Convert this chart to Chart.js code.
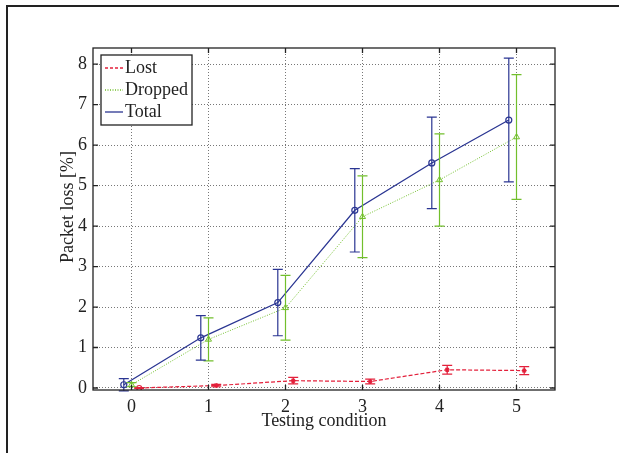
<!DOCTYPE html>
<html>
<head>
<meta charset="utf-8">
<script src="https://cdn.jsdelivr.net/npm/chart.js@4.4.1/dist/chart.umd.min.js"></script>
<style>
    html, body { margin: 0; padding: 0; background: #fff; }
    #wrap { position: relative; width: 619px; height: 458px; }
    #frame {
        position: absolute; left: 6px; top: 5px; right: 0; bottom: 5px;
        border-top: 2px solid #222; border-left: 2px solid #222;
        pointer-events: none;
    }
</style>
</head>
<body>
<div id="wrap">
    <canvas id="c" width="619" height="458"></canvas>
    <div id="frame"></div>
</div>
<script>
// Testing conditions and per-series values
const conditions = [0, 1, 2, 3, 4, 5];
const xTicks = ['0', '1', '2', '3', '4', '5'];
const yTicks = [0, 1, 2, 3, 4, 5, 6, 7, 8];

const lost = [0.00, 0.06, 0.18, 0.16, 0.45, 0.43];
const lostErr = [0.01, 0.03, 0.08, 0.06, 0.11, 0.10];

const dropped = [0.08, 1.20, 1.98, 4.23, 5.14, 6.20];
const droppedErr = [0.05, 0.53, 0.80, 1.01, 1.14, 1.54];

const total = [0.08, 1.24, 2.11, 4.39, 5.56, 6.62];
const totalErr = [0.15, 0.55, 0.82, 1.03, 1.13, 1.53];

// each series is plotted slightly shifted along x
const seriesShift = { lost: 0.1, dropped: 0, total: -0.1 };

const COLORS = { lost: '#e3203b', dropped: '#72bf2c', total: '#2a3592' };
const FONT = '"Liberation Serif", "DejaVu Serif", serif';

function points(values, shift) {
    return conditions.map((c, i) => ({ x: c + shift, y: values[i] }));
}

// vertical error bars with caps
const errorBars = {
    id: 'errorBars',
    afterDatasetsDraw(chart) {
        const { ctx, scales: { x, y } } = chart;
        chart.data.datasets.forEach(ds => {
            if (!ds.err) return;
            ctx.save();
            ctx.strokeStyle = ds.borderColor;
            ctx.lineWidth = 1.2;
            ctx.setLineDash([]);
            ds.data.forEach((p, i) => {
                const px = x.getPixelForValue(p.x);
                const top = y.getPixelForValue(p.y + ds.err[i]);
                const bot = y.getPixelForValue(p.y - ds.err[i]);
                ctx.beginPath();
                ctx.moveTo(px, top); ctx.lineTo(px, bot);
                ctx.moveTo(px - 5, top); ctx.lineTo(px + 5, top);
                ctx.moveTo(px - 5, bot); ctx.lineTo(px + 5, bot);
                ctx.stroke();
            });
            ctx.restore();
        });
    }
};

// axes box with inward ticks, axis titles and the legend in the top-left corner
const boxAndLegend = {
    id: 'boxAndLegend',
    afterDraw(chart) {
        const { ctx, chartArea: a, scales: { x, y } } = chart;
        ctx.save();
        ctx.strokeStyle = '#222';
        ctx.lineWidth = 1.3;
        ctx.setLineDash([]);
        ctx.strokeRect(a.left, a.top, a.right - a.left, a.bottom - a.top);
        ctx.beginPath();
        conditions.forEach(c => {
            const px = x.getPixelForValue(c);
            ctx.moveTo(px, a.bottom); ctx.lineTo(px, a.bottom - 5);
            ctx.moveTo(px, a.top); ctx.lineTo(px, a.top + 5);
        });
        yTicks.forEach(v => {
            const py = y.getPixelForValue(v);
            ctx.moveTo(a.left, py); ctx.lineTo(a.left + 5, py);
            ctx.moveTo(a.right, py); ctx.lineTo(a.right - 5, py);
        });
        ctx.stroke();

        // axis titles
        ctx.fillStyle = '#222';
        ctx.font = '18px ' + FONT;
        ctx.textAlign = 'center';
        ctx.textBaseline = 'middle';
        ctx.fillText('Testing condition', (a.left + a.right) / 2, 421);
        ctx.save();
        ctx.translate(68, 207);
        ctx.rotate(-Math.PI / 2);
        ctx.fillText('Packet loss [%]', 0, 0);
        ctx.restore();

        // legend
        const lx = a.left + 8, ly = a.top + 7, lw = 91, lh = 70;
        ctx.fillStyle = '#fff';
        ctx.fillRect(lx, ly, lw, lh);
        ctx.strokeStyle = '#222';
        ctx.lineWidth = 1.3;
        ctx.strokeRect(lx, ly, lw, lh);
        const entries = [
            { label: 'Lost', color: COLORS.lost, dash: [3, 2] },
            { label: 'Dropped', color: COLORS.dropped, dash: [1, 1.5] },
            { label: 'Total', color: COLORS.total, dash: [] }
        ];
        ctx.font = '18px ' + FONT;
        ctx.textAlign = 'left';
        entries.forEach((e, i) => {
            const ey = ly + 13 + i * 22;
            ctx.strokeStyle = e.color;
            ctx.lineWidth = 1.3;
            ctx.setLineDash(e.dash);
            ctx.beginPath();
            ctx.moveTo(lx + 4, ey); ctx.lineTo(lx + 22, ey);
            ctx.stroke();
            ctx.fillStyle = '#222';
            ctx.fillText(e.label, lx + 24, ey);
        });
        ctx.restore();
    }
};

new Chart(document.getElementById('c'), {
    type: 'scatter',
    data: {
        datasets: [
            {
                label: 'Lost',
                data: points(lost, seriesShift.lost),
                err: lostErr,
                showLine: true,
                borderColor: COLORS.lost,
                backgroundColor: COLORS.lost,
                borderWidth: 1.2,
                borderDash: [4, 2],
                pointStyle: ['circle', 'star', 'star', 'star', 'star', 'star'],
                pointRadius: 2.5,
                pointBorderWidth: 1.2,
                pointBackgroundColor: 'transparent'
            },
            {
                label: 'Dropped',
                data: points(dropped, seriesShift.dropped),
                err: droppedErr,
                showLine: true,
                borderColor: COLORS.dropped,
                backgroundColor: COLORS.dropped,
                borderWidth: 1,
                borderDash: [1, 1.5],
                pointStyle: 'triangle',
                pointRadius: 3.5,
                pointBorderWidth: 1,
                pointBackgroundColor: 'transparent'
            },
            {
                label: 'Total',
                data: points(total, seriesShift.total),
                err: totalErr,
                showLine: true,
                borderColor: COLORS.total,
                backgroundColor: COLORS.total,
                borderWidth: 1.3,
                pointStyle: 'circle',
                pointRadius: 3,
                pointBorderWidth: 1.2,
                pointBackgroundColor: 'transparent'
            }
        ]
    },
    options: {
        responsive: false,
        animation: false,
        layout: { padding: { top: 48, right: 64, left: 0, bottom: 0 } },
        plugins: { legend: { display: false }, tooltip: { enabled: false } },
        scales: {
            x: {
                type: 'linear',
                min: -0.5,
                max: 5.5,
                afterBuildTicks: s => { s.ticks = conditions.map(v => ({ value: v })); },
                afterFit: s => { s.height = 68; },
                grid: { color: '#777', lineWidth: 1, drawTicks: false },
                border: { display: false, dash: [1, 2] },
                ticks: {
                    color: '#222',
                    padding: 6,
                    font: { family: FONT, size: 18 },
                    callback: (v) => xTicks[conditions.indexOf(v)]
                }
            },
            y: {
                min: -0.05,
                max: 8.4,
                afterBuildTicks: s => { s.ticks = yTicks.map(v => ({ value: v })); },
                afterFit: s => { s.width = 93; },
                grid: { color: '#777', lineWidth: 1, drawTicks: false },
                border: { display: false, dash: [1, 2] },
                ticks: {
                    color: '#222',
                    padding: 6,
                    font: { family: FONT, size: 18 }
                }
            }
        }
    },
    plugins: [errorBars, boxAndLegend]
});
</script>
</body>
</html>
